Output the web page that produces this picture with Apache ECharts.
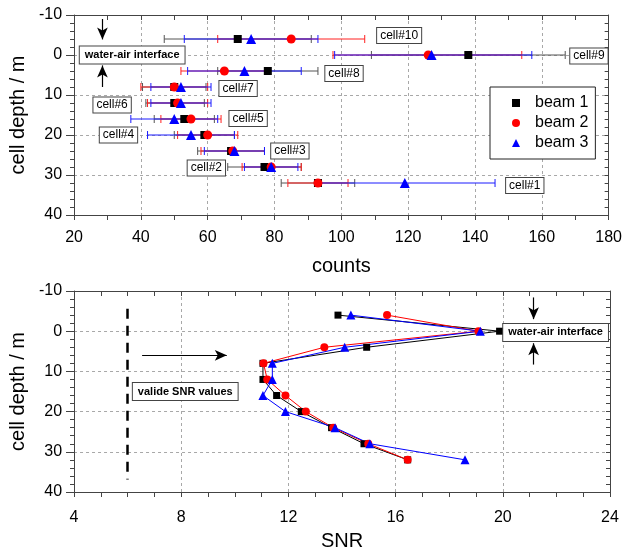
<!DOCTYPE html>
<html><head><meta charset="utf-8">
<script src="https://cdn.jsdelivr.net/npm/echarts@6/dist/echarts.min.js"></script>
<style>html,body{margin:0;padding:0;background:#fff}#c{width:625px;height:552px}</style>
</head><body><div id="c"></div>
<script>
// ---------- data ----------
const cellNames  = ['cell#1','cell#2','cell#3','cell#4','cell#5','cell#6','cell#7','cell#8','cell#9','cell#10'];
const cellDepth  = [32, 28, 24, 20, 16, 12, 8, 4, 0, -4];

const beam1Counts = [93, 77, 67, 59, 53, 50, 50, 78, 138, 69];
const beam1Low    = [82, 66, 57, 50, 44, 41.5, 40.5, 63, 109, 47];
const beam1High   = [104, 88, 77, 68, 62, 59, 59.5, 93, 167, 91];

const beam2Counts = [93, 79, 67.5, 60, 55, 51, 50, 65, 126, 85];
const beam2Low    = [84, 70.3, 58, 51, 46, 42, 40, 52, 97.5, 63];
const beam2High   = [102, 88, 77, 69, 64, 60, 60, 78, 154, 107];

const beam3Counts = [119, 79, 68, 55, 50, 52, 52, 71, 127, 73];
const beam3Low    = [92, 71, 59, 42, 37, 43, 43, 54, 98, 53];
const beam3High   = [146, 87, 77, 68, 63, 61, 61, 88, 157, 93];

const snrDepth  = [-4, 0, 4, 8, 12, 16, 20, 24, 28, 32];
const beam1SNR  = [13.85, 19.88, 14.92, 11.05, 11.05, 11.56, 12.48, 13.61, 14.82, 16.45];
const beam2SNR  = [15.68, 19.09, 13.34, 11.07, 11.21, 11.89, 12.65, 13.67, 14.98, 16.45];
const beam3SNR  = [14.33, 19.16, 14.10, 11.40, 11.40, 11.05, 11.89, 13.74, 15.04, 18.59];

const depthTicks = [-10, 0, 10, 20, 30, 40];
const countTicks = [20, 40, 60, 80, 100, 120, 140, 160, 180];
const snrTicks   = [4, 8, 12, 16, 20, 24];
const validSNR   = 6;

// annotations in data units [text, x, depth]
const topNotes = [
  ['cell#10', 117.3, -4.9], ['cell#9', 174.1, 0.25], ['cell#8', 100.8, 4.6],
  ['cell#7', 69.1, 8.4], ['cell#6', 31.4, 12.5], ['cell#5', 72.1, 15.9],
  ['cell#4', 33.3, 20], ['cell#3', 84.6, 24], ['cell#2', 59.6, 28.25], ['cell#1', 154.9, 32.6]
];
const topInterface = ['water-air interface', 37.4, 0];
const botInterface = ['water-air interface', 21.97, 0.3];
const botValid     = ['valide SNR values', 8.15, 15];

// ---------- chart ----------
const FONT = "'Liberation Sans', Arial, sans-serif";
const chart = echarts.init(document.getElementById('c'), null, {renderer:'canvas'});
const frame = '#444';

function mainX(grid, ticks, minorSplit, name, gap, margin){
  return {gridIndex:grid, type:'value', position:'bottom', min:ticks[0], max:ticks[ticks.length-1],
    interval:ticks[1]-ticks[0], name:name, nameLocation:'middle', nameGap:gap,
    nameTextStyle:{fontSize:20, color:'#000', fontFamily:FONT},
    axisLine:{show:true, onZero:false, lineStyle:{color:frame, width:1}},
    axisTick:{show:true, inside:false, length:5, lineStyle:{color:frame}},
    minorTick:{show:true, splitNumber:minorSplit, length:5, lineStyle:{color:frame}},
    axisLabel:{fontSize:16, color:'#000', fontFamily:FONT, margin:margin},
    splitLine:{show:true, lineStyle:{color:'#a8a8a8', type:[3,3], width:1}}};
}
function mirrorX(grid, ticks, minorSplit){
  return {gridIndex:grid, type:'value', position:'top', min:ticks[0], max:ticks[ticks.length-1],
    interval:ticks[1]-ticks[0],
    axisLine:{show:true, onZero:false, lineStyle:{color:frame, width:1}},
    axisTick:{show:true, inside:true, length:5, lineStyle:{color:frame}},
    minorTick:{show:true, splitNumber:minorSplit, length:5, lineStyle:{color:frame}},
    axisLabel:{show:false}, splitLine:{show:false}};
}
function mainY(grid){
  return {gridIndex:grid, type:'value', position:'left', inverse:true, min:depthTicks[0], max:depthTicks[depthTicks.length-1],
    interval:10, name:'cell depth / m', nameLocation:'middle', nameGap:37,
    nameTextStyle:{fontSize:20, color:'#000', fontFamily:FONT},
    axisLine:{show:true, onZero:false, lineStyle:{color:frame, width:1}},
    axisTick:{show:true, inside:false, length:8, lineStyle:{color:frame}},
    minorTick:{show:true, splitNumber:5, length:4, lineStyle:{color:frame}},
    axisLabel:{fontSize:16, color:'#000', fontFamily:FONT, margin:12},
    splitLine:{show:true, lineStyle:{color:'#a8a8a8', type:[3,3], width:1}}};
}
function mirrorY(grid){
  return {gridIndex:grid, type:'value', position:'right', inverse:true, min:depthTicks[0], max:depthTicks[depthTicks.length-1],
    interval:10,
    axisLine:{show:true, onZero:false, lineStyle:{color:frame, width:1}},
    axisTick:{show:true, inside:true, length:4, lineStyle:{color:frame}},
    minorTick:{show:true, splitNumber:5, length:4, lineStyle:{color:frame}},
    axisLabel:{show:false}, splitLine:{show:false}};
}

function errBars(name, low, high, color){
  return {type:'custom', name:name, xAxisIndex:0, yAxisIndex:0, silent:true, z:2,
    data: cellDepth.map((d,i)=>[low[i], high[i], d]),
    encode:{x:[0,1], y:2},
    renderItem(params, api){
      const a = api.coord([api.value(0), api.value(2)]);
      const b = api.coord([api.value(1), api.value(2)]);
      const s = {stroke:color, lineWidth:1};
      return {type:'group', children:[
        {type:'line', shape:{x1:a[0], y1:a[1], x2:b[0], y2:b[1]}, style:s},
        {type:'line', shape:{x1:a[0], y1:a[1]-4, x2:a[0], y2:a[1]+4}, style:s},
        {type:'line', shape:{x1:b[0], y1:b[1]-4, x2:b[0], y2:b[1]+4}, style:s}
      ]};
    }};
}
function pts(name, vals, depth, sym, size, color, xi, yi){
  return {type:'scatter', name:name, xAxisIndex:xi, yAxisIndex:yi, symbol:sym, symbolSize:size,
    itemStyle:{color:color, opacity:1}, z:4, silent:true,
    data: vals.map((v,i)=>[v, depth[i]])};
}
function snrLine(name, vals, sym, size, color){
  return {type:'line', name:name, xAxisIndex:2, yAxisIndex:2, symbol:sym, symbolSize:size, showSymbol:true,
    lineStyle:{color:color, width:1}, itemStyle:{color:color}, z:4, silent:true,
    data: vals.map((v,i)=>[v, snrDepth[i]])};
}
const arrowStyle = {color:'#000', width:1.2, type:'solid'};

const option = {
  animation:false,
  backgroundColor:'#fff',
  textStyle:{fontFamily:FONT},
  grid:[
    {left:70, top:15, width:541, height:200},
    {left:68, top:291, width:542, height:201}
  ],
  xAxis:[
    mainX(0, countTicks, 2, 'counts', 41, 15),
    mirrorX(0, countTicks, 2),
    mainX(1, snrTicks, 4, 'SNR', 39, 18),
    mirrorX(1, snrTicks, 4)
  ],
  yAxis:[ mainY(0), mirrorY(0), mainY(1), mirrorY(1) ],
  legend:{
    show:true, orient:'vertical', left:490, top:87,
    data:[{name:'beam 1', icon:'rect'}, {name:'beam 2', icon:'circle'}, {name:'beam 3', icon:'triangle'}],
    itemWidth:8, itemHeight:8, itemGap:4,
    padding:[8, 7, 8, 22],
    borderColor:'#222', borderWidth:1, backgroundColor:'#fff',
    textStyle:{fontSize:16, color:'#000', fontFamily:FONT, padding:[0,0,0,10]},
    selectedMode:false
  },
  series:[
    errBars('e1', beam1Low, beam1High, '#555'),
    errBars('e2', beam2Low, beam2High, '#ff2020'),
    errBars('e3', beam3Low, beam3High, '#1a1aff'),
    pts('beam 1', beam1Counts, cellDepth, 'rect', 8, '#000', 0, 0),
    pts('beam 2', beam2Counts, cellDepth, 'circle', 9, '#ff0000', 0, 0),
    Object.assign(pts('beam 3', beam3Counts, cellDepth, 'triangle', 10, '#0000ff', 0, 0), {
      markLine:{silent:true, symbol:['none','arrow'], symbolSize:[8,12], label:{show:false},
        lineStyle:arrowStyle,
        data:[
          [{coord:[28.5,-9.0]},{coord:[28.5,-3.9]}],
          [{coord:[28.5,8.0]},{coord:[28.5,2.6]}]
        ]}
    }),
    snrLine('beam 1', beam1SNR, 'rect', 7, '#000'),
    snrLine('beam 2', beam2SNR, 'circle', 8, '#ff0000'),
    Object.assign(snrLine('beam 3', beam3SNR, 'triangle', 9, '#0000ff'), {
      markLine:{silent:true, symbol:['none','arrow'], symbolSize:[8,12], label:{show:false},
        lineStyle:arrowStyle,
        data:[
          [{coord:[6.54,6]},{coord:[9.7,6]}],
          [{coord:[21.15,-8.4]},{coord:[21.15,-3.0]}],
          [{coord:[21.15,8.3]},{coord:[21.15,3.0]}],
          [{coord:[validSNR,-5.6], symbol:'none', lineStyle:{type:[10,7], width:2.5, color:'#000'}},
           {coord:[validSNR,36.9], symbol:'none'}]
        ]}
    })
  ]
};
chart.setOption(option);

// annotation boxes positioned through the axes
function box(grid, note, bold, size){
  const p = chart.convertToPixel({gridIndex:grid}, [note[1], note[2]]);
  return {type:'text', z:100, silent:true, x:p[0], y:p[1],
    style:{text:note[0], align:'center', verticalAlign:'middle',
      font:(bold?'bold ':'')+size+'px '+FONT, fill:'#000',
      backgroundColor:'#fff', borderColor:'#444', borderWidth:1,
      padding: bold ? [3,5,3,5] : [2,3,1,3]}};
}
const g = topNotes.map(n=>box(0, n, false, 12));
g.push(box(0, topInterface, true, 11));
g.push(box(1, botInterface, true, 11));
g.push(box(1, botValid, true, 11));
chart.setOption({graphic:g});
</script></body></html>
